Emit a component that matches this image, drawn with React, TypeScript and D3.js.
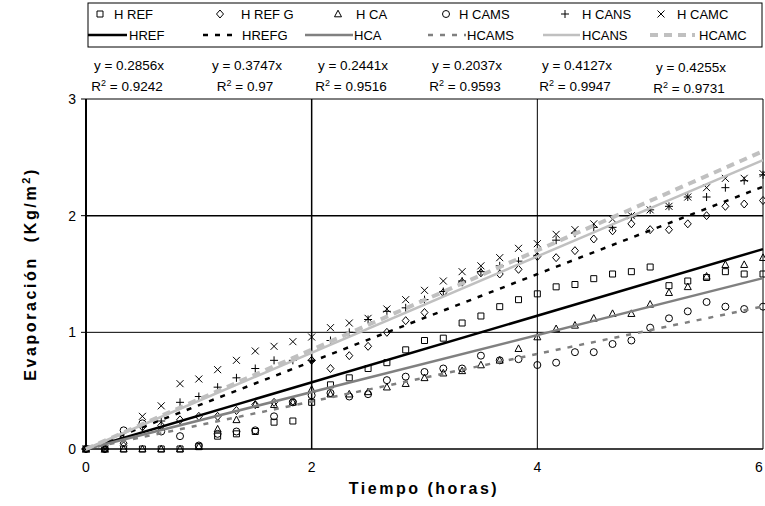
import React, { useEffect } from "react";
import * as d3 from "d3";

// tiempo en minutos (cada 10 min)
const tiempoMin = [0, 10, 20, 30, 40, 50, 60, 70, 80, 90, 100, 110, 120, 130, 140, 150, 160, 170, 180, 190, 200, 210, 220, 230, 240, 250, 260, 270, 280, 290, 300, 310, 320, 330, 340, 350, 360];

const hRef = [0, 0, 0, 0, 0, 0, 0.02, 0.11, 0.13, 0.15, 0.23, 0.24, 0.4, 0.55, 0.61, 0.69, 0.74, 0.85, 0.93, 0.95, 1.08, 1.14, 1.22, 1.28, 1.33, 1.39, 1.41, 1.46, 1.5, 1.52, 1.56, 1.4, 1.44, 1.47, 1.52, 1.5, 1.5];
const hRefG = [0, 0, 0.05, 0.19, 0.2, 0.25, 0.28, 0.28, 0.33, 0.38, 0.4, 0.41, 0.76, 0.69, 0.8, 0.88, 1.0, 1.1, 1.17, 1.34, 1.43, 1.51, 1.5, 1.54, 1.65, 1.64, 1.7, 1.8, 1.87, 1.93, 1.88, 1.88, 1.93, 2.0, 2.08, 2.1, 2.13];
const hCa = [0, 0, 0, 0, 0, 0, 0.02, 0.17, 0.25, 0.38, 0.38, 0.4, 0.51, 0.47, 0.47, 0.49, 0.53, 0.56, 0.61, 0.65, 0.67, 0.72, 0.76, 0.86, 0.96, 1.03, 1.06, 1.12, 1.16, 1.16, 1.24, 1.34, 1.39, 1.48, 1.58, 1.58, 1.64];
const hCams = [0, 0, 0.16, 0.22, 0.15, 0.11, 0.03, 0.13, 0.15, 0.16, 0.28, 0.4, 0.46, 0.48, 0.45, 0.47, 0.59, 0.62, 0.66, 0.69, 0.69, 0.8, 0.76, 0.77, 0.72, 0.74, 0.83, 0.83, 0.9, 0.93, 1.04, 1.12, 1.18, 1.26, 1.22, 1.2, 1.22];
const hCans = [0, 0, 0.1, 0.19, 0.24, 0.4, 0.45, 0.53, 0.61, 0.69, 0.76, 0.76, 0.76, 0.93, 1.0, 1.11, 1.18, 1.21, 1.28, 1.35, 1.44, 1.52, 1.57, 1.61, 1.66, 1.79, 1.85, 1.9, 1.9, 1.99, 2.05, 2.08, 2.16, 2.16, 2.24, 2.3, 2.35];
const hCamc = [0, 0, 0.06, 0.28, 0.37, 0.56, 0.6, 0.68, 0.76, 0.84, 0.88, 0.92, 0.96, 1.04, 1.08, 1.12, 1.2, 1.28, 1.36, 1.44, 1.52, 1.57, 1.64, 1.72, 1.76, 1.84, 1.88, 1.93, 1.97, 2.0, 2.05, 2.08, 2.16, 2.24, 2.32, 2.32, 2.36];

const nombresMarcas = ["H REF", "H REF G", "H CA", "H CAMS", "H CANS", "H CAMC"];
const nombresLineas = ["HREF", "HREFG", "HCA", "HCAMS", "HCANS", "HCAMC"];
const pendientes = [0.2856, 0.3747, 0.2441, 0.2037, 0.4127, 0.4255];
const r2 = ["0.9242", "0.97", "0.9516", "0.9593", "0.9947", "0.9731"];
const xTicks = [0, 2, 4, 6];
const yTicks = [0, 1, 2, 3];

const series = [hRef, hRefG, hCa, hCams, hCans, hCamc];
const marcas = ["square", "diamond", "triangle", "circle", "plus", "times"];
const estilos = [
  { stroke: "#000", w: 2.5, dash: undefined },
  { stroke: "#000", w: 2.5, dash: "5,7" },
  { stroke: "#808080", w: 2.5, dash: undefined },
  { stroke: "#808080", w: 2.5, dash: "5,7" },
  { stroke: "#c0c0c0", w: 2.5, dash: undefined },
  { stroke: "#c0c0c0", w: 4, dash: "8,6" },
];

const font = "'Liberation Sans', Arial, sans-serif";

function markerPath(kind: string) {
  switch (kind) {
    case "square":
      return "M-3,-3H3V3H-3Z";
    case "diamond":
      return "M0,-4L3.5,0L0,4L-3.5,0Z";
    case "triangle":
      return "M0,-3.8L3.5,2.8H-3.5Z";
    case "circle":
      return "M3.5,0A3.5,3.5 0 1,1 -3.5,0A3.5,3.5 0 1,1 3.5,0Z";
    case "plus":
      return "M-4,0H4M0,-4V4";
    default:
      return "M-3.5,-3.5L3.5,3.5M-3.5,3.5L3.5,-3.5";
  }
}

// posiciones de la leyenda
const legMarkX = [100, 220, 338, 446, 565, 661];
const legTextX1 = [114, 241, 356, 459, 582, 677];
const legLine = [[88, 127], [203, 238], [305, 353], [428, 466], [543, 580], [650, 695]];
const legTextX2 = [129, 242, 354, 467, 582, 699];
const eqX = [129, 247, 353, 467, 577, 691];

export default function App() {
  useEffect(() => {
    document.body.style.margin = "0";
  }, []);

  const width = 765;
  const height = 506;
  const x = d3.scaleLinear().domain([0, 6]).range([86, 763]);
  const y = d3.scaleLinear().domain([0, 3]).range([449, 99]);
  const horas = tiempoMin.map((m) => m / 60);

  return (
    <svg width={width} height={height} style={{ display: "block", fontFamily: font }}>
      <rect width={width} height={height} fill="#fff" />

      {/* leyenda */}
      <rect x={88} y={3} width={674} height={44} fill="#fff" stroke="#000" strokeWidth={1} />
      {nombresMarcas.map((n, i) => (
        <g key={n}>
          <path
            d={markerPath(marcas[i])}
            transform={`translate(${legMarkX[i]},14)`}
            fill="none"
            stroke="#000"
            strokeWidth={1}
          />
          <text x={legTextX1[i]} y={18.5} fontSize={13}>
            {n}
          </text>
        </g>
      ))}
      {nombresLineas.map((n, i) => (
        <g key={n}>
          <line
            x1={legLine[i][0]}
            x2={legLine[i][1]}
            y1={35}
            y2={35}
            stroke={estilos[i].stroke}
            strokeWidth={estilos[i].w}
            strokeDasharray={estilos[i].dash}
          />
          <text x={legTextX2[i]} y={39.5} fontSize={13}>
            {n}
          </text>
        </g>
      ))}

      {/* ecuaciones */}
      {pendientes.map((p, i) => (
        <text key={i} textAnchor="middle" fontSize={13.5}>
          <tspan x={eqX[i]} y={i === 5 ? 72 : 70}>{`y = ${p}x`}</tspan>
          <tspan x={eqX[i]} y={i === 5 ? 93 : 91} dx={-2}>
            R<tspan dy={-5} fontSize={9}>2</tspan>
            <tspan dy={5}>{` = ${r2[i]}`}</tspan>
          </tspan>
        </text>
      ))}

      {/* rejilla */}
      {yTicks.map((t) => (
        <line key={"gy" + t} x1={x(0)} x2={x(6)} y1={y(t)} y2={y(t)} stroke="#000" strokeWidth={t === 2 || t === 0 ? 1.5 : 1} />
      ))}
      {xTicks.slice(1).map((t) => (
        <line key={"gx" + t} x1={x(t)} x2={x(t)} y1={y(0)} y2={y(3)} stroke="#000" strokeWidth={t === 2 ? 1.5 : 1} />
      ))}
      <line x1={x(0)} x2={x(0)} y1={y(0) + 1} y2={y(3)} stroke="#000" strokeWidth={2} />
      {yTicks.map((t) => (
        <line key={"ty" + t} x1={x(0) - 5} x2={x(0)} y1={y(t)} y2={y(t)} stroke="#000" strokeWidth={1} />
      ))}

      {/* marcas */}
      {series.map((s, k) => (
        <g key={"s" + k}>
          {s.map((v, i) => (
            <path
              key={i}
              d={markerPath(marcas[k])}
              transform={`translate(${x(horas[i])},${y(v)})`}
              fill="none"
              stroke="#000"
              strokeWidth={1}
            />
          ))}
        </g>
      ))}

      {/* lineas de tendencia */}
      {pendientes.map((p, i) => (
        <path
          key={"l" + i}
          d={
            d3
              .line<number>()
              .x((d) => x(d))
              .y((d) => y(p * d))([0, 6]) as string
          }
          fill="none"
          stroke={estilos[i].stroke}
          strokeWidth={estilos[i].w}
          strokeDasharray={estilos[i].dash}
        />
      ))}

      {/* ejes */}
      {yTicks.map((t) => (
        <text key={"yl" + t} x={76} y={y(t) + 5} textAnchor="end" fontSize={14}>
          {t}
        </text>
      ))}
      {xTicks.map((t) => (
        <text key={"xl" + t} x={t === 6 ? x(t) - 4 : x(t)} y={472} textAnchor="middle" fontSize={14}>
          {t}
        </text>
      ))}
      <text x={424} y={494} textAnchor="middle" fontSize={16} fontWeight="bold" letterSpacing={2.5}>
        Tiempo (horas)
      </text>
      <text transform="translate(36,274) rotate(-90)" textAnchor="middle" fontSize={16} fontWeight="bold" letterSpacing={2.6}>
        Evaporación{"\u00a0\u00a0"}(Kg/m<tspan dy={-6} fontSize={11}>2</tspan>
        <tspan dy={6}>)</tspan>
      </text>
    </svg>
  );
}
